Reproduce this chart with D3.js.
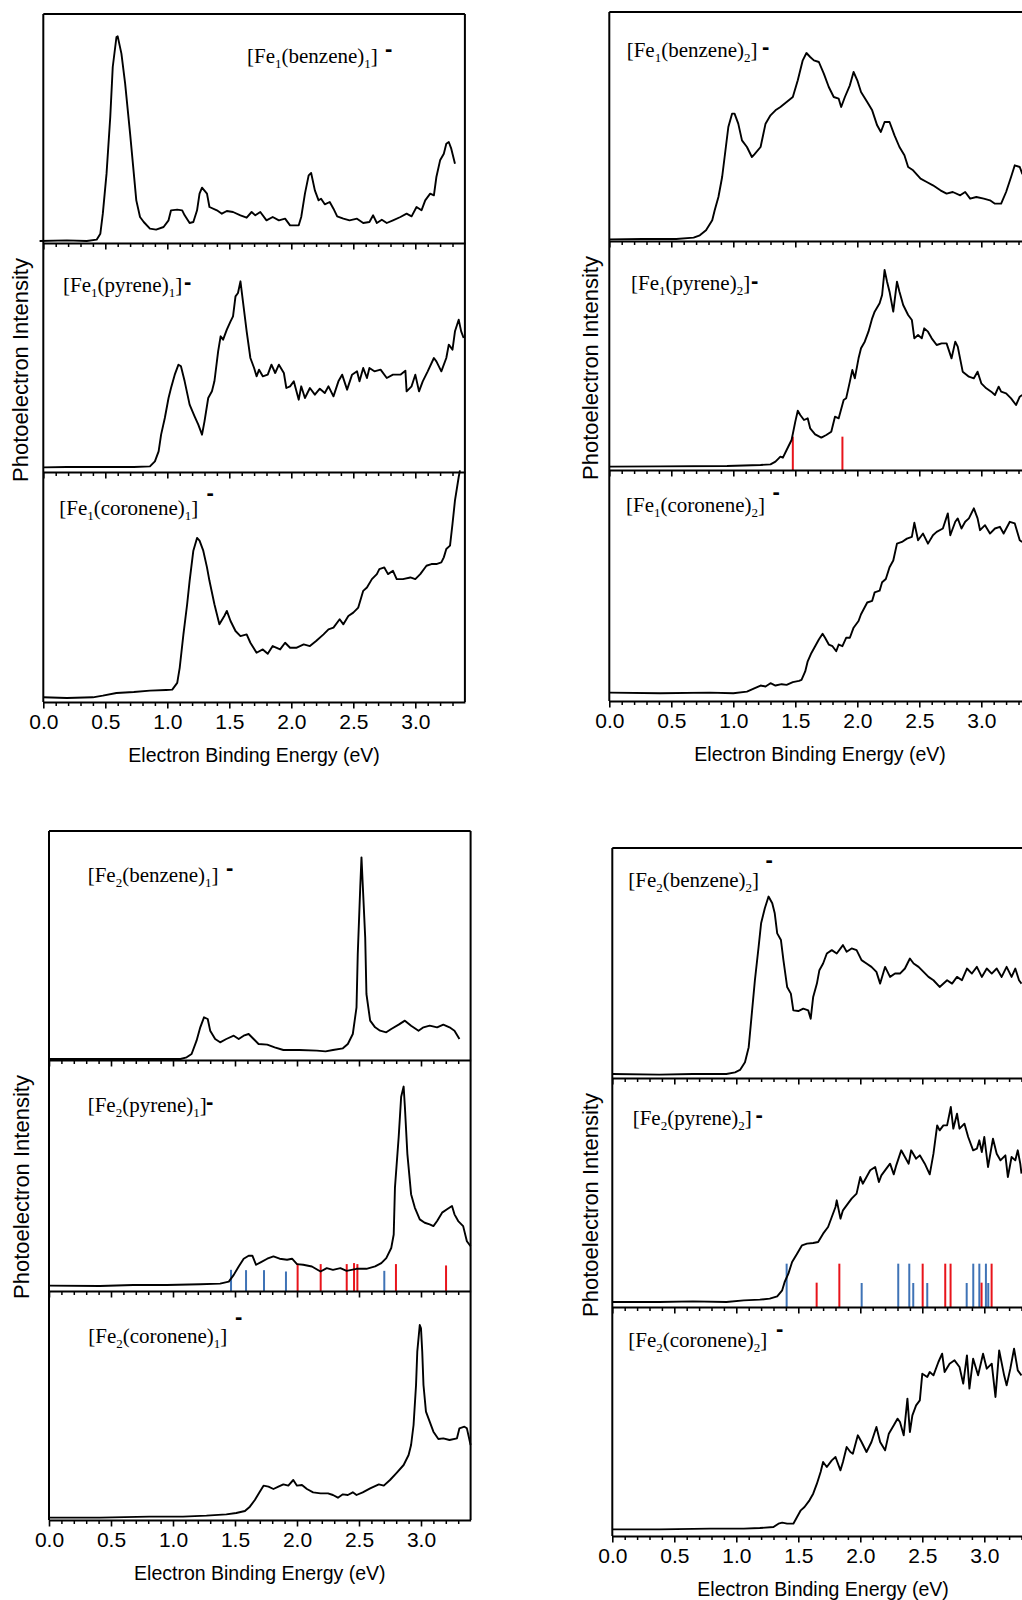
<!DOCTYPE html>
<html>
<head>
<meta charset="utf-8">
<script src="https://cdn.jsdelivr.net/npm/d3@7"></script>
<style>
body { margin: 0; background: #fff; }
.tick text { font-family: "Liberation Sans", Arial, sans-serif; font-size: 21px; fill: #000; }
.ytitle { font-family: "Liberation Sans", Arial, sans-serif; font-size: 22px; }
.xtitle { font-family: "Liberation Sans", Arial, sans-serif; font-size: 19.5px; }
.lab { font-family: "Liberation Serif", "Times New Roman", serif; font-size: 21px; }
.minus { font-family: "Liberation Sans", Arial, sans-serif; font-size: 22px; font-weight: bold; }
</style>
</head>
<body>
<script>

// spectra: [binding energy (eV), intensity (arb. units)]
var fe1Benzene1 = [[-0.03,6],[0.19,8],[0.35,6],[0.43,10],[0.46,28],[0.48,88],[0.51,208],[0.54,378],[0.56,528],[0.59,618],[0.60,620],[0.63,568],[0.66,478],[0.70,328],[0.73,208],[0.75,128],[0.78,78],[0.81,63],[0.86,43],[0.91,40],[0.97,48],[1.01,68],[1.03,98],[1.08,100],[1.12,98],[1.14,83],[1.18,60],[1.21,63],[1.24,98],[1.26,148],[1.28,166],[1.32,148],[1.34,108],[1.40,98],[1.44,88],[1.48,96],[1.53,93],[1.59,83],[1.64,76],[1.68,93],[1.71,83],[1.75,93],[1.80,68],[1.85,78],[1.90,68],[1.95,73],[1.99,53],[2.06,53],[2.08,78],[2.11,148],[2.14,203],[2.16,210],[2.19,158],[2.22,128],[2.24,133],[2.27,116],[2.31,123],[2.34,103],[2.37,80],[2.42,73],[2.47,68],[2.53,73],[2.58,60],[2.63,63],[2.66,83],[2.69,60],[2.73,70],[2.77,60],[2.82,68],[2.88,78],[2.93,88],[2.97,80],[3.01,108],[3.05,98],[3.08,128],[3.12,148],[3.15,143],[3.17,198],[3.20,248],[3.23,268],[3.25,298],[3.27,303],[3.29,283],[3.32,238]];

var fe1Pyrene1 = [[0.00,14],[0.19,15],[0.46,15],[0.73,15],[0.86,17],[0.90,32],[0.93,62],[0.95,112],[0.98,162],[1.01,222],[1.03,252],[1.06,292],[1.09,322],[1.11,317],[1.14,272],[1.18,202],[1.22,167],[1.25,142],[1.28,112],[1.30,152],[1.33,222],[1.36,242],[1.38,272],[1.41,362],[1.43,407],[1.45,397],[1.48,427],[1.51,452],[1.53,467],[1.55,527],[1.57,537],[1.59,572],[1.61,512],[1.64,422],[1.67,342],[1.70,312],[1.72,287],[1.74,307],[1.77,287],[1.81,292],[1.84,322],[1.87,297],[1.90,322],[1.94,297],[1.96,252],[1.99,257],[2.02,272],[2.06,217],[2.08,257],[2.11,222],[2.15,252],[2.19,232],[2.23,250],[2.27,237],[2.30,257],[2.34,227],[2.38,272],[2.41,292],[2.45,247],[2.49,292],[2.53,302],[2.55,272],[2.58,312],[2.61,282],[2.63,312],[2.67,302],[2.72,307],[2.77,282],[2.82,292],[2.88,292],[2.92,304],[2.93,242],[2.97,257],[3.00,292],[3.03,242],[3.06,272],[3.10,302],[3.15,342],[3.17,332],[3.21,302],[3.25,342],[3.27,382],[3.30,367],[3.32,422],[3.35,457],[3.37,422],[3.39,402]];

var fe1Coronene1 = [[0.00,14],[0.19,12],[0.40,14],[0.48,19],[0.59,27],[0.73,30],[0.86,34],[0.99,36],[1.04,37],[1.08,57],[1.10,102],[1.13,202],[1.16,292],[1.18,362],[1.21,452],[1.24,490],[1.26,482],[1.29,452],[1.32,402],[1.34,362],[1.38,292],[1.42,232],[1.46,257],[1.48,272],[1.51,242],[1.55,212],[1.59,197],[1.64,202],[1.67,177],[1.72,147],[1.77,157],[1.81,144],[1.85,167],[1.91,157],[1.95,177],[1.99,162],[2.04,162],[2.10,172],[2.15,167],[2.20,182],[2.26,202],[2.30,217],[2.34,222],[2.39,247],[2.42,232],[2.46,257],[2.50,267],[2.54,282],[2.58,332],[2.61,342],[2.65,367],[2.69,382],[2.71,397],[2.75,402],[2.78,382],[2.82,392],[2.85,367],[2.90,367],[2.96,372],[3.00,367],[3.04,382],[3.09,407],[3.13,412],[3.17,412],[3.21,417],[3.23,432],[3.25,457],[3.28,467],[3.30,532],[3.32,602],[3.35,672],[3.36,692]];

var fe1Benzene2 = [[0.00,5],[0.27,6],[0.54,6],[0.68,10],[0.73,17],[0.78,32],[0.83,62],[0.85,92],[0.88,132],[0.91,192],[0.94,282],[0.96,342],[0.99,382],[1.01,382],[1.04,352],[1.07,302],[1.11,282],[1.15,252],[1.17,260],[1.22,282],[1.26,352],[1.30,377],[1.34,392],[1.38,402],[1.43,417],[1.48,432],[1.52,482],[1.54,512],[1.56,542],[1.59,564],[1.62,552],[1.65,542],[1.69,537],[1.73,502],[1.77,462],[1.81,432],[1.85,427],[1.87,402],[1.90,432],[1.94,467],[1.97,507],[2.00,482],[2.03,447],[2.08,417],[2.12,392],[2.16,347],[2.19,327],[2.22,357],[2.26,357],[2.30,317],[2.34,282],[2.38,257],[2.41,222],[2.45,212],[2.51,187],[2.56,177],[2.61,167],[2.67,152],[2.72,142],[2.77,147],[2.83,137],[2.87,147],[2.91,127],[2.96,132],[3.02,127],[3.07,122],[3.11,112],[3.16,112],[3.20,147],[3.24,192],[3.27,227],[3.31,222],[3.33,202],[3.36,190]];

var fe1Pyrene2 = [[0.00,10],[0.41,11],[0.95,12],[1.22,15],[1.30,17],[1.34,25],[1.38,40],[1.40,37],[1.43,60],[1.47,90],[1.50,145],[1.52,178],[1.54,165],[1.57,150],[1.60,155],[1.62,125],[1.66,107],[1.71,97],[1.75,105],[1.79,115],[1.82,160],[1.85,155],[1.89,210],[1.91,215],[1.94,265],[1.96,300],[1.98,275],[2.01,335],[2.03,365],[2.06,385],[2.09,415],[2.12,455],[2.14,475],[2.18,500],[2.20,525],[2.22,600],[2.24,565],[2.26,535],[2.29,475],[2.32,565],[2.34,535],[2.37,495],[2.41,465],[2.44,450],[2.46,395],[2.49,405],[2.52,395],[2.54,425],[2.57,415],[2.60,395],[2.64,375],[2.68,380],[2.72,380],[2.76,335],[2.79,385],[2.81,370],[2.85,295],[2.90,280],[2.94,275],[2.97,295],[3.00,260],[3.04,245],[3.08,235],[3.11,225],[3.14,250],[3.16,235],[3.20,230],[3.24,215],[3.28,195],[3.31,220],[3.33,225]];

var fe1Coronene2 = [[0.00,25],[0.41,23],[0.81,25],[1.00,23],[1.11,28],[1.16,36],[1.22,46],[1.26,43],[1.30,53],[1.34,46],[1.39,50],[1.43,48],[1.48,56],[1.53,60],[1.55,63],[1.58,88],[1.60,118],[1.63,143],[1.66,163],[1.69,183],[1.72,200],[1.74,188],[1.77,168],[1.80,163],[1.83,148],[1.85,168],[1.88,163],[1.91,188],[1.94,188],[1.97,218],[2.01,238],[2.03,258],[2.08,293],[2.12,298],[2.14,323],[2.18,328],[2.20,353],[2.23,363],[2.26,398],[2.29,418],[2.32,468],[2.36,473],[2.40,483],[2.44,488],[2.46,530],[2.49,478],[2.53,498],[2.57,468],[2.61,493],[2.64,503],[2.69,513],[2.73,558],[2.75,493],[2.79,533],[2.81,543],[2.84,513],[2.87,533],[2.90,543],[2.94,573],[2.97,543],[2.99,508],[3.03,523],[3.07,498],[3.11,513],[3.15,518],[3.18,498],[3.23,533],[3.27,528],[3.31,478],[3.33,473]];

var fe2Benzene1 = [[0.00,3],[0.41,3],[1.06,3],[1.11,8],[1.15,18],[1.19,58],[1.22,98],[1.25,128],[1.28,123],[1.30,88],[1.34,63],[1.38,53],[1.43,63],[1.49,73],[1.53,63],[1.57,73],[1.61,78],[1.65,63],[1.69,48],[1.76,46],[1.82,38],[1.89,30],[2.02,30],[2.16,28],[2.23,26],[2.29,30],[2.37,35],[2.41,48],[2.45,78],[2.48,158],[2.49,318],[2.51,518],[2.52,608],[2.53,528],[2.55,368],[2.56,198],[2.59,118],[2.63,98],[2.67,88],[2.72,83],[2.76,93],[2.82,106],[2.87,118],[2.92,103],[2.98,88],[3.02,98],[3.07,103],[3.13,98],[3.18,106],[3.23,98],[3.27,88],[3.31,63]];

var fe2Pyrene1 = [[0.00,16],[0.41,15],[0.68,18],[0.95,18],[1.22,20],[1.38,22],[1.45,28],[1.49,48],[1.53,73],[1.57,96],[1.61,105],[1.64,105],[1.67,78],[1.71,86],[1.76,96],[1.81,103],[1.86,96],[1.92,93],[1.96,96],[2.00,80],[2.05,78],[2.12,73],[2.19,58],[2.24,68],[2.29,63],[2.35,68],[2.40,60],[2.48,66],[2.56,66],[2.63,73],[2.68,83],[2.72,98],[2.76,128],[2.78,168],[2.79,308],[2.82,458],[2.84,578],[2.86,608],[2.87,548],[2.89,408],[2.92,288],[2.95,248],[2.99,213],[3.03,203],[3.07,198],[3.10,193],[3.13,208],[3.17,233],[3.21,243],[3.25,253],[3.27,228],[3.30,208],[3.34,193],[3.37,148],[3.40,133]];

var fe2Coronene1 = [[0.00,7],[0.41,7],[0.81,10],[1.08,10],[1.27,13],[1.43,17],[1.51,21],[1.58,27],[1.62,40],[1.66,60],[1.70,85],[1.73,103],[1.77,100],[1.81,93],[1.85,100],[1.89,107],[1.93,103],[1.97,120],[2.00,103],[2.04,105],[2.08,93],[2.13,83],[2.19,80],[2.25,80],[2.29,75],[2.33,67],[2.37,77],[2.41,75],[2.45,83],[2.48,75],[2.53,83],[2.59,95],[2.66,107],[2.70,103],[2.75,120],[2.80,140],[2.86,165],[2.90,195],[2.92,225],[2.94,285],[2.96,405],[2.97,505],[2.99,585],[3.00,575],[3.01,505],[3.02,405],[3.04,325],[3.07,295],[3.10,265],[3.14,243],[3.18,245],[3.23,240],[3.29,245],[3.31,275],[3.35,280],[3.37,275],[3.40,225]];

var fe2Benzene2 = [[0.00,12],[0.38,10],[0.65,12],[0.92,12],[0.99,17],[1.03,24],[1.07,47],[1.10,92],[1.12,172],[1.15,292],[1.18,392],[1.20,462],[1.23,507],[1.26,542],[1.29,522],[1.31,492],[1.33,432],[1.36,412],[1.38,352],[1.41,272],[1.44,252],[1.46,202],[1.50,200],[1.54,207],[1.58,202],[1.60,177],[1.62,242],[1.65,282],[1.67,322],[1.70,342],[1.73,372],[1.77,382],[1.81,372],[1.86,397],[1.89,377],[1.93,387],[1.97,382],[2.01,352],[2.05,342],[2.09,332],[2.13,317],[2.16,282],[2.20,332],[2.24,302],[2.28,312],[2.32,312],[2.36,327],[2.40,357],[2.43,342],[2.47,332],[2.51,317],[2.55,302],[2.59,292],[2.64,272],[2.70,292],[2.74,282],[2.78,302],[2.82,292],[2.86,327],[2.90,312],[2.94,332],[2.98,302],[3.02,327],[3.06,312],[3.10,327],[3.14,302],[3.18,332],[3.22,302],[3.25,327],[3.28,292],[3.30,282]];

var fe2Pyrene2 = [[0.00,15],[0.38,15],[0.65,17],[0.92,15],[1.06,20],[1.19,22],[1.27,25],[1.33,32],[1.37,50],[1.39,75],[1.42,100],[1.45,135],[1.49,160],[1.53,185],[1.57,190],[1.62,192],[1.66,195],[1.70,220],[1.74,240],[1.77,270],[1.80,300],[1.81,320],[1.84,265],[1.86,290],[1.90,310],[1.93,325],[1.97,340],[2.00,390],[2.02,370],[2.05,390],[2.08,410],[2.12,420],[2.15,375],[2.17,395],[2.21,415],[2.24,430],[2.27,398],[2.29,425],[2.33,470],[2.36,450],[2.39,430],[2.41,470],[2.45,445],[2.48,455],[2.52,430],[2.56,398],[2.59,460],[2.62,545],[2.64,530],[2.67,545],[2.70,545],[2.73,600],[2.75,535],[2.78,580],[2.80,535],[2.84,550],[2.87,510],[2.91,470],[2.94,475],[2.96,500],[2.98,465],[3.00,510],[3.03,420],[3.07,505],[3.10,460],[3.13,440],[3.17,455],[3.19,390],[3.22,450],[3.25,440],[3.27,470],[3.29,430],[3.30,400]];

var fe2Coronene2 = [[0.00,20],[0.38,20],[0.79,22],[1.06,22],[1.19,24],[1.30,27],[1.34,37],[1.37,40],[1.41,37],[1.46,37],[1.49,57],[1.52,77],[1.55,87],[1.59,107],[1.62,127],[1.65,157],[1.68,192],[1.70,222],[1.73,207],[1.77,227],[1.80,237],[1.84,197],[1.86,222],[1.89,267],[1.92,252],[1.94,247],[1.98,302],[2.01,282],[2.05,252],[2.09,282],[2.13,327],[2.16,282],[2.20,257],[2.23,307],[2.27,332],[2.30,352],[2.32,342],[2.35,302],[2.38,412],[2.40,312],[2.42,362],[2.45,392],[2.48,407],[2.50,487],[2.54,477],[2.56,492],[2.59,482],[2.63,522],[2.66,547],[2.68,492],[2.72,517],[2.76,527],[2.80,507],[2.83,457],[2.86,542],[2.88,442],[2.91,532],[2.95,482],[2.99,547],[3.02,502],[3.06,517],[3.09,417],[3.12,557],[3.16,482],[3.18,452],[3.21,502],[3.24,562],[3.27,497],[3.30,482]];

// calculated transitions: [energy (eV), stick height]
var fe1Pyrene2Red = [[1.48,100],[1.88,100]];
var fe2Pyrene1Blue = [[1.468,63],[1.589,62],[1.734,62],[1.911,58],[2.704,60]];
var fe2Pyrene1Red = [[2.005,82],[2.191,80],[2.401,80],[2.460,83],[2.487,80],[2.798,80],[3.202,76]];
var fe2Pyrene2Blue = [[1.406,130],[2.011,72],[2.306,130],[2.395,130],[2.427,72],[2.540,72],[2.858,72],[2.911,130],[2.960,130],[3.013,130],[3.032,72]];
var fe2Pyrene2Red = [[1.648,73],[1.831,130],[2.503,130],[2.685,130],[2.728,130],[2.978,73],[3.059,130]];

var majorTicks = [0, 0.5, 1.0, 1.5, 2.0, 2.5, 3.0];
var tickLabels = ["0.0", "0.5", "1.0", "1.5", "2.0", "2.5", "3.0"];
var minorTicks = [0.1,0.2,0.3,0.4,0.6,0.7,0.8,0.9,1.1,1.2,1.3,1.4,1.6,1.7,1.8,1.9,2.1,2.2,2.3,2.4,2.6,2.7,2.8,2.9,3.1,3.2,3.3];

var xTitle = "Electron Binding Energy (eV)";
var yTitle = "Photoelectron Intensity";

var RED = "#e8141b";
var BLUE = "#3f73b6";

// layout of the four panels
var panels = [
    {left: 43.3, bounds: [14, 243, 472, 702], ylx: 28, yly: 370, subs: [
        {data: fe1Benzene1, m: "1", lig: "benzene", n: "1", lx: 247, ly: 63, mx: 385, my: 50},
        {data: fe1Pyrene1, m: "1", lig: "pyrene", n: "1", lx: 63, ly: 291.7, mx: 184, my: 283},
        {data: fe1Coronene1, m: "1", lig: "coronene", n: "1", lx: 59.3, ly: 515, mx: 206.5, my: 494}
    ]},
    {left: 609.3, bounds: [12, 241, 470, 701], ylx: 598, yly: 368, subs: [
        {data: fe1Benzene2, m: "1", lig: "benzene", n: "2", lx: 626.7, ly: 57.3, mx: 762, my: 48},
        {data: fe1Pyrene2, m: "1", lig: "pyrene", n: "2", lx: 631, ly: 290, mx: 751, my: 281.7,
            sticks: [{data: fe1Pyrene2Red, color: RED}]},
        {data: fe1Coronene2, m: "1", lig: "coronene", n: "2", lx: 626, ly: 511.7, mx: 772.5, my: 493.3}
    ]},
    {left: 49, bounds: [831, 1060, 1291, 1520], ylx: 29, yly: 1187, subs: [
        {data: fe2Benzene1, m: "2", lig: "benzene", n: "1", lx: 87.7, ly: 881.7, mx: 226, my: 869},
        {data: fe2Pyrene1, m: "2", lig: "pyrene", n: "1", lx: 87.7, ly: 1111.7, mx: 206, my: 1103},
        {data: fe2Coronene1, m: "2", lig: "coronene", n: "1", lx: 88.3, ly: 1343.3, mx: 235, my: 1318.3}
    ].map(function(s, i) {
        if (i === 1) s.sticks = [{data: fe2Pyrene1Blue, color: BLUE}, {data: fe2Pyrene1Red, color: RED}];
        return s;
    })},
    {left: 612.3, bounds: [848, 1078, 1307, 1536], ylx: 598, yly: 1205, subs: [
        {data: fe2Benzene2, m: "2", lig: "benzene", n: "2", lx: 628.3, ly: 886.7, mx: 765.5, my: 860.7},
        {data: fe2Pyrene2, m: "2", lig: "pyrene", n: "2", lx: 632.7, ly: 1125, mx: 755.5, my: 1116,
            sticks: [{data: fe2Pyrene2Blue, color: BLUE}, {data: fe2Pyrene2Red, color: RED}]},
        {data: fe2Coronene2, m: "2", lig: "coronene", n: "2", lx: 628.3, ly: 1346.7, mx: 776, my: 1330}
    ]}
];

var panelWidth = 421.6;   // 0 - 3.4 eV
var yMax = 687;

var svg = d3.select("body").append("svg")
    .attr("width", 1022)
    .attr("height", 1600);

svg.append("rect").attr("width", 1022).attr("height", 1600).attr("fill", "#fff");

panels.forEach(function(p) {
    var x = d3.scaleLinear().domain([0, 3.4]).range([p.left, p.left + panelWidth]);
    var g = svg.append("g");
    var last = p.subs.length - 1;

    p.subs.forEach(function(s, i) {
        var top = p.bounds[i], bottom = p.bounds[i + 1];
        var y = d3.scaleLinear().domain([0, yMax]).range([bottom, top]);

        // stick spectra
        (s.sticks || []).forEach(function(st) {
            g.selectAll(null).data(st.data).enter().append("line")
                .attr("x1", d => x(d[0])).attr("x2", d => x(d[0]))
                .attr("y1", y(0)).attr("y2", d => y(d[1]))
                .attr("stroke", st.color)
                .attr("stroke-width", 2);
        });

        var line = d3.line().x(d => x(d[0])).y(d => y(d[1]));
        g.append("path")
            .datum(s.data)
            .attr("d", line)
            .attr("fill", "none")
            .attr("stroke", "#000")
            .attr("stroke-width", 1.9)
            .attr("stroke-linejoin", "round");

        // x axis under each sub plot, ticks hang below
        var minorAxis = g.append("g").attr("transform", "translate(0," + bottom + ")")
            .call(d3.axisBottom(x).tickValues(minorTicks).tickSize(4).tickSizeOuter(0).tickFormat(""));
        minorAxis.select(".domain").remove();
        minorAxis.selectAll("line").attr("stroke-width", 1.5);

        var majorAxis = g.append("g").attr("transform", "translate(0," + bottom + ")")
            .call(d3.axisBottom(x).tickValues(majorTicks).tickSize(6.5).tickSizeOuter(0)
                .tickFormat(function(d, j) { return i === last ? tickLabels[j] : ""; }));
        majorAxis.select(".domain").attr("stroke-width", 2);
        majorAxis.selectAll("line").attr("stroke-width", 1.6);
        majorAxis.selectAll("text").attr("y", 26.5).attr("dy", 0);

        // label
        var t = g.append("text").attr("class", "lab").attr("x", s.lx).attr("y", s.ly);
        t.append("tspan").text("[Fe");
        t.append("tspan").attr("dy", 5).attr("font-size", 13).text(s.m);
        t.append("tspan").attr("dy", -5).text("(" + s.lig + ")");
        t.append("tspan").attr("dy", 5).attr("font-size", 13).text(s.n);
        t.append("tspan").attr("dy", -5).text("]");
        g.append("text").attr("class", "minus").attr("x", s.mx).attr("y", s.my + 6).text("-");
    });

    // frame
    var top0 = p.bounds[0], bot = p.bounds[p.bounds.length - 1];
    g.append("line").attr("x1", x(0)).attr("x2", x(3.4)).attr("y1", top0).attr("y2", top0)
        .attr("stroke", "#000").attr("stroke-width", 2);
    g.append("line").attr("x1", x(0)).attr("x2", x(0)).attr("y1", top0).attr("y2", bot)
        .attr("stroke", "#000").attr("stroke-width", 2);
    g.append("line").attr("x1", x(3.4)).attr("x2", x(3.4)).attr("y1", top0).attr("y2", bot)
        .attr("stroke", "#000").attr("stroke-width", 2);

    g.append("text").attr("class", "xtitle")
        .attr("x", p.left + panelWidth / 2).attr("y", bot + 59.5)
        .attr("text-anchor", "middle")
        .text(xTitle);

    g.append("text").attr("class", "ytitle")
        .attr("transform", "translate(" + p.ylx + "," + p.yly + ") rotate(-90)")
        .attr("text-anchor", "middle")
        .text(yTitle);
});

</script>
</body>
</html>
